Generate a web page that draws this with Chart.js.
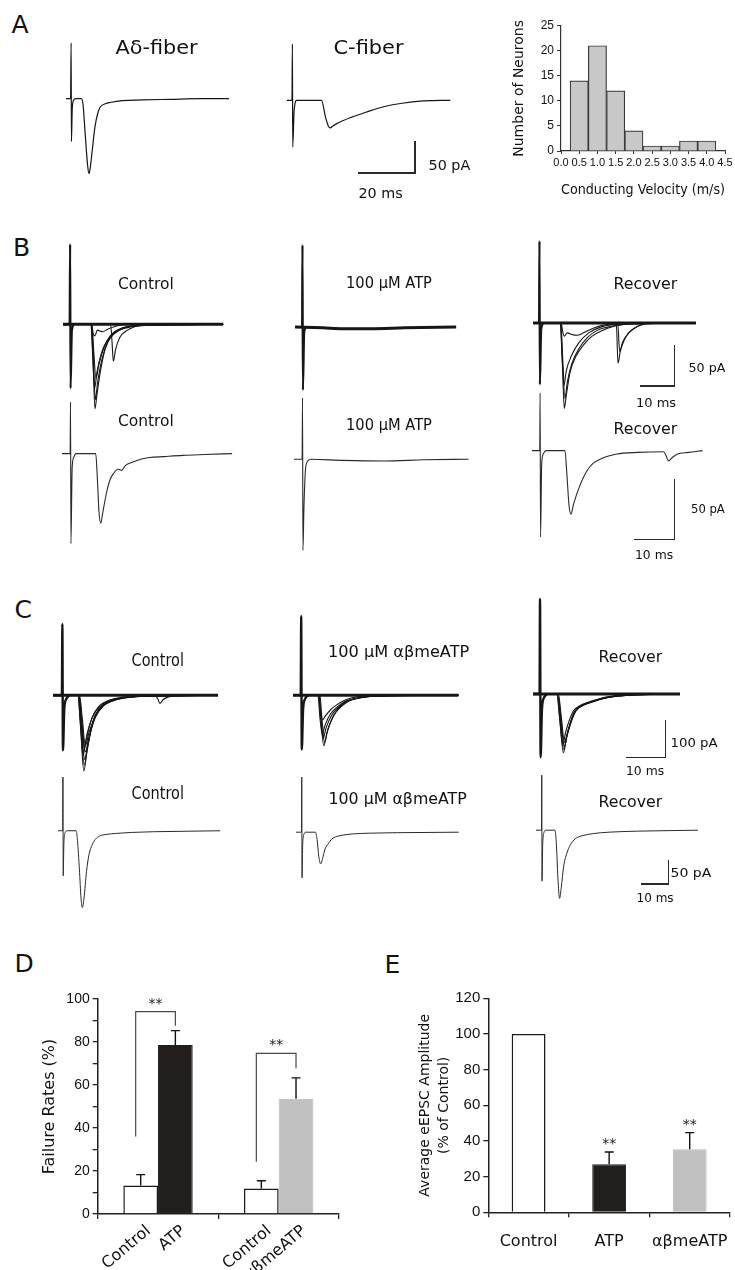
<!DOCTYPE html>
<html>
<head>
<meta charset="utf-8">
<title>ATP and eEPSC figure</title>
<script src="https://cdn.jsdelivr.net/npm/chart.js@4.4.1/dist/chart.umd.min.js"></script>
<style>
html, body { margin: 0; padding: 0; background: #fff; }
#fig { position: relative; width: 735px; height: 1270px; overflow: hidden; font-family: "DejaVu Sans", sans-serif; color: #111; }
#fig canvas { position: absolute; }
.lbl { position: absolute; white-space: nowrap; line-height: 1; transform-origin: center center; }
.sb { position: absolute; background: #2a2a2a; }
</style>
</head>
<body>
<div id="fig"></div>
<script>
// ---- A: single sweeps, time (ms) vs current (pA) ----
const aDeltaTrace = [[-1.8,0],[-0.2,0],[0,87],[0.1,-67],[0.4,-15],[0.9,-2],[1.5,0],[3.6,0],[4.2,-10],[4.9,-53],[5.8,-105],[6.3,-117],[6.8,-105],[7.3,-85],[8.4,-43],[9.4,-22],[10.2,-13],[12,-8],[13.7,-6],[18,-3],[25,-2],[35,-1],[45,0],[55.4,0]];
const cFiberTrace = [[-1.9,0],[-0.15,0],[0,88],[0.1,-73],[0.6,-16],[1.5,0],[10.2,0],[11.6,-26],[12.6,-40],[13.3,-43],[14.2,-40],[15.7,-36],[20.4,-27],[26.2,-18],[32,-10],[37.9,-5],[46,-1],[55.4,0]];

// ---- A: conduction velocity histogram ----
const velocityBins = [0.5, 1.0, 1.5, 2.0, 2.5, 3.0, 3.5, 4.0];
const neuronCounts = [14, 21, 12, 4, 1, 1, 2, 2];

// ---- B: ATP, overlaid sweeps (top) and single sweeps (bottom) ----
const bTopControlArtifact = [[-2.1,0],[-0.15,0],[0,98],[0.12,-78],[0.5,-8],[1.2,0]];
const bTopControlBaseline = [[-2.1,0],[45,0]];
const bTopControlSweeps = [
  [[1.2,0],[6.2,0],[6.7,-40],[7.3,-103],[7.9,-85],[9.0,-55],[10.3,-30],[11.7,-17],[14.6,-7],[18,-3],[24,-1],[45,0]],
  [[1.2,0],[6.3,0],[6.8,-35],[7.4,-92],[8.1,-70],[9.4,-42],[11,-22],[13,-11],[16,-4],[22,-1],[45,0]],
  [[1.2,0],[6.1,0],[6.6,-35],[7.2,-78],[7.9,-58],[9.2,-35],[10.8,-20],[13,-9],[17,-3],[24,-1],[45,0]],
  [[1.2,0],[6.4,0],[6.9,-30],[7.6,-66],[8.4,-50],[9.8,-30],[11.6,-16],[14,-7],[18,-2],[45,0]],
  [[1.2,0],[6.3,0],[6.8,-12],[7.3,-14],[8.0,-7],[9.5,-9],[11,-6],[13,-3],[16,0],[45,0]],
  [[1.2,0],[11.9,0],[12.3,-20],[12.7,-45],[13.4,-30],[14.6,-16],[16.5,-8],[19,-3],[23,0],[45,0]]
];
const bTopAtpArtifact = [[-2.2,0],[-0.12,0],[0,100],[0.12,-77],[0.5,-6],[1.2,0]];
const bTopAtpBaseline = [[-2.2,0],[6,-1],[12,-2],[20,-2],[30,-1],[45.2,0]];
const bTopRecoverArtifact = [[-1.9,0],[-0.12,0],[0,100],[0.12,-75],[0.5,-8],[1.2,0]];
const bTopRecoverBaseline = [[-1.9,0],[46,0]];
const bTopRecoverSweeps = [
  [[1.2,0],[6.2,0],[6.7,-45],[7.3,-104],[7.9,-88],[9,-60],[10.8,-40],[13.1,-26],[15.5,-16],[18,-10],[22,-4],[28,-1],[46,0]],
  [[1.2,0],[6.3,0],[6.8,-40],[7.5,-92],[8.2,-72],[9.5,-50],[11.5,-32],[14,-18],[17,-9],[21,-4],[28,-1],[46,0]],
  [[1.2,0],[6.1,0],[6.6,-35],[7.2,-76],[7.9,-58],[9.4,-40],[11.6,-24],[14.5,-12],[18,-5],[25,-1],[46,0]],
  [[1.2,0],[6.4,0],[6.8,-10],[7.3,-16],[8.2,-12],[9.5,-14],[11,-15],[13,-12],[16,-6],[20,-2],[46,0]],
  [[1.2,0],[22.6,0],[23.1,-49],[23.8,-34],[25,-20],[26.5,-11],[29,-4],[33,0],[46,0]],
  [[1.2,0],[23.0,0],[23.6,-35],[24.4,-24],[26,-13],[28,-6],[31,-1],[46,0]]
];
const bLowControlTrace = [[-2.1,0],[-0.1,0],[0,43],[0.1,-75],[0.4,-12],[0.8,-3],[1.3,0],[6.2,0],[6.6,-20],[7.0,-48],[7.46,-58],[7.9,-50],[8.9,-32],[9.7,-22],[10.5,-17],[11.7,-13],[12.6,-14],[13.5,-10],[15.4,-7],[17.5,-4.5],[19.5,-3.3],[23,-2.5],[27.7,-1.5],[33,-0.8],[39.8,0]];
const bLowAtpTrace = [[-2.1,0],[-0.1,0],[0,51],[0.1,-76],[0.35,-40],[0.7,-10],[1.2,-2],[2,0],[10,-1],[20,-1.5],[30,-0.5],[40.9,0]];
const bLowRecoverTrace = [[-2,0],[-0.1,0],[0,48],[0.1,-72],[0.4,-10],[0.9,-2],[1.4,0],[6.1,0],[6.6,-20],[7.1,-45],[7.6,-53],[8.2,-45],[9.85,-28.6],[11.5,-17],[13.1,-10.5],[15.5,-6],[18.9,-2.8],[24,-1.5],[30.4,-1],[31.0,-4],[31.6,-8.6],[32.5,-6],[33.7,-3],[36.5,-1.5],[40,0]];

// ---- C: alpha,beta-meATP ----
const cTopControlArtifact = [[-2.4,0],[-0.12,0],[0,189],[0.15,-146],[0.5,-35],[1.0,-10],[1.8,0]];
const cTopControlBaseline = [[-2.4,0],[39.9,0]];
const cTopControlSweeps = [
  [[1.8,0],[4.0,0],[4.7,-90],[5.5,-201],[6.3,-150],[7.8,-70],[9.5,-35],[11.3,-20],[14,-10],[18,-4],[25,-1],[39.9,0]],
  [[1.8,0],[4.1,0],[4.8,-85],[5.6,-185],[6.5,-135],[8.0,-66],[9.8,-33],[11.6,-19],[14.5,-9],[19,-3],[26,-1],[39.9,0]],
  [[1.8,0],[4.2,0],[4.9,-80],[5.7,-170],[6.6,-125],[8.2,-62],[10,-32],[12,-17],[15,-8],[20,-3],[39.9,0]],
  [[1.8,0],[4.0,0],[4.6,-70],[5.3,-160],[6.1,-118],[7.6,-60],[9.3,-30],[11,-18],[13.5,-9],[18,-3],[39.9,0]],
  [[1.8,0],[4.3,0],[5.0,-70],[5.9,-150],[6.8,-112],[8.5,-58],[10.3,-30],[12.3,-17],[15.5,-8],[20,-3],[39.9,0]],
  [[1.8,0],[4.1,0],[4.8,-60],[5.6,-140],[6.4,-100],[8.0,-52],[9.8,-28],[11.8,-15],[15,-7],[23.8,-2],[24.5,-10],[25,-22],[25.8,-12],[27,-5],[29,-1],[39.9,0]],
  [[1.8,0],[4.4,0],[5.1,-60],[5.9,-134],[6.8,-100],[8.6,-54],[10.5,-28],[12.8,-15],[16,-6],[21,-2],[39.9,0]]
];
const cTopAbmeArtifact = [[-2.1,0],[-0.12,0],[0,210],[0.15,-144],[0.5,-35],[1.0,-10],[1.8,0]];
const cTopAbmeBaseline = [[-2.1,0],[40.3,0]];
const cTopAbmeSweeps = [
  [[1.8,0],[4.3,0],[4.8,-60],[5.4,-103],[6.1,-80],[7.5,-50],[9.2,-32],[11,-18],[12.6,-12],[16,-5],[22,-1],[40.3,0]],
  [[1.8,0],[4.6,0],[5.1,-70],[5.8,-134],[6.6,-100],[8.0,-60],[9.2,-40],[11,-22],[12.6,-13],[17,-4],[25,0],[40.3,0]],
  [[1.8,0],[4.8,0],[5.3,-60],[6.0,-125],[6.8,-92],[8.3,-55],[9.6,-37],[11.5,-20],[13.5,-11],[18,-3],[40.3,0]],
  [[1.8,0],[4.5,0],[5.0,-55],[5.6,-115],[6.4,-86],[7.9,-52],[9.4,-34],[11.2,-19],[13,-11],[17,-4],[40.3,0]],
  [[1.8,0],[4.4,0],[4.9,-35],[5.4,-66],[6.2,-55],[7.6,-38],[9.2,-25],[11,-14],[13,-7],[17,-2],[40.3,0]]
];
const cTopRecoverArtifact = [[-1.8,0],[-0.12,0],[0,252],[0.15,-168],[0.5,-40],[1.0,-10],[1.8,0]];
const cTopRecoverBaseline = [[-1.8,0],[35.9,0]];
const cTopRecoverSweeps = [
  [[1.8,0],[4.4,0],[5.1,-70],[6.0,-156],[6.8,-115],[8.7,-50],[10.5,-33],[13.8,-20],[17,-10],[22,-4],[28,-1],[35.9,0]],
  [[1.8,0],[4.5,0],[5.2,-65],[6.1,-148],[6.9,-110],[8.8,-48],[10.7,-31],[13.8,-19],[17,-9],[22,-3],[35.9,0]],
  [[1.8,0],[4.6,0],[5.3,-60],[6.2,-140],[7.1,-104],[9.0,-47],[11,-30],[14,-18],[17.5,-9],[23,-3],[35.9,0]],
  [[1.8,0],[4.3,0],[5.0,-60],[5.8,-135],[6.6,-100],[8.5,-46],[10.4,-30],[13.5,-18],[17,-8],[22,-2],[35.9,0]],
  [[1.8,0],[4.7,0],[5.4,-55],[6.3,-129],[7.2,-96],[9.2,-45],[11.2,-28],[14.2,-17],[18,-8],[24,-2],[35.9,0]]
];
const cLowControlTrace = [[-1.8,0],[-0.1,0],[0,112],[0.1,-94],[0.35,-25],[0.8,-4],[1.5,0],[4.8,0],[5.3,-20],[6.0,-80],[6.6,-140],[7.1,-160],[7.7,-140],[8.6,-85],[9.5,-50],[10.4,-33],[11.8,-18],[13.4,-11],[16,-7.5],[19.5,-5.5],[25,-3.5],[33,-2],[45,-1],[57.4,0]];
const cLowAbmeTrace = [[-2.1,0],[-0.1,0],[0,115],[0.1,-95],[0.35,-25],[0.8,-4],[1.5,0],[5.0,0],[5.6,-15],[6.2,-50],[6.9,-66],[7.6,-55],[8.5,-35],[9.7,-24],[11,-14],[12.8,-9],[15,-6],[18.8,-3.5],[25,-2],[35,-1],[57.3,0]];
const cLowRecoverTrace = [[-2.1,0],[-0.1,0],[0,115],[0.1,-106],[0.35,-30],[0.8,-5],[1.5,0],[4.8,0],[5.3,-25],[5.9,-100],[6.5,-142],[7.1,-120],[8.0,-75],[9.1,-49],[10.5,-30],[12.2,-18],[14.5,-12],[18.8,-7],[25,-4],[35,-2],[45,-1],[57,0]];

// ---- D: failure rates (%) ----
const failGroups = ['ATP', 'αβmeATP'];
const failControl = [13.2, 11.9];
const failControlErr = [5.1, 3.6];
const failDrug = [78.6, 53.6];
const failDrugErr = [6.7, 9.7];
const failTickLabels = [['Control', 'ATP'], ['Control', 'αβmeATP']];
const bracketLeftEnd = [36, 24.3];
const bracketTop = [94.1, 74.7];
const bracketRightEnd = [87.6, 67.8];

// ---- E: eEPSC amplitude (% of control) ----
const ampLabels = ['Control', 'ATP', 'αβmeATP'];
const ampMean = [100, 26.9, 35.3];
const ampErr = [0, 6.9, 9.4];
const ampSignificant = [false, true, true];

// ---------------------------------------------------------------
const fig = document.getElementById('fig');
const INK = '#161616';
Chart.defaults.animation = false;
Chart.defaults.responsive = false;
Chart.defaults.layout.autoPadding = false;
Chart.defaults.plugins.legend.display = false;
Chart.defaults.plugins.tooltip.enabled = false;
Chart.defaults.font.family = '"Liberation Sans", Arial, sans-serif';
Chart.defaults.color = '#111';

function addCanvas(left, top, w, h) {
  const cv = document.createElement('canvas');
  cv.width = w; cv.height = h;
  cv.style.left = left + 'px';
  cv.style.top = top + 'px';
  fig.appendChild(cv);
  return cv;
}

// text label centred on (cx, cy), squeezed to the target width when given
function addLabel(text, cx, cy, size, targetW) {
  const d = document.createElement('div');
  d.className = 'lbl';
  d.textContent = text;
  d.style.fontSize = size + 'px';
  fig.appendChild(d);
  const w = d.offsetWidth, h = d.offsetHeight;
  d.style.left = (cx - w / 2) + 'px';
  d.style.top = (cy - h / 2) + 'px';
  if (targetW) d.style.transform = 'scaleX(' + (targetW / w).toFixed(3) + ')';
}

// L-shaped scale bar: vertical at x from yTop to yBot, horizontal from xLeft to x
function addScaleBar(x, yTop, yBot, xLeft) {
  const v = document.createElement('div');
  v.className = 'sb';
  Object.assign(v.style, { left: (x - 0.6) + 'px', top: yTop + 'px', width: '1.2px', height: (yBot - yTop) + 'px' });
  const hz = document.createElement('div');
  hz.className = 'sb';
  Object.assign(hz.style, { left: xLeft + 'px', top: (yBot - 0.6) + 'px', width: (x - xLeft + 0.6) + 'px', height: '1.2px' });
  fig.appendChild(v); fig.appendChild(hz);
}

// one recording panel: x0/y0 = page pixel of stimulus time and baseline
function tracePanel(p) {
  const pts = p.traces.flatMap(t => t[0]);
  const pad = 3;
  const tMin = Math.min(...pts.map(q => q[0])) - pad / p.msPx;
  const tMax = Math.max(...pts.map(q => q[0]));
  const iMin = Math.min(...pts.map(q => q[1]));
  const iMax = Math.max(...pts.map(q => q[1])) + pad / p.paPx;
  const w = Math.ceil((tMax - tMin) * p.msPx + pad);
  const h = Math.ceil((iMax - iMin) * p.paPx + pad);
  const cv = addCanvas(p.x0 + tMin * p.msPx, p.y0 - iMax * p.paPx, w, h);
  new Chart(cv, {
    type: 'line',
    data: {
      datasets: p.traces.map(([d, lw]) => ({
        data: d.map(q => ({ x: q[0], y: q[1] })),
        borderColor: p.color || INK,
        borderWidth: lw,
        pointRadius: 0,
        cubicInterpolationMode: 'monotone',
        borderJoinStyle: 'round',
        clip: false
      }))
    },
    options: {
      layout: { padding: 0 },
      scales: {
        x: { type: 'linear', display: false, min: tMin, max: tMin + w / p.msPx },
        y: { type: 'linear', display: false, min: iMax - h / p.paPx, max: iMax }
      }
    }
  });
}

const sweepsOf = (list, lw) => list.map(d => [d, lw]);

[
  { x0: 71, y0: 99, msPx: 2.85, paPx: 0.64, traces: [[aDeltaTrace, 1.2]] },
  { x0: 292.3, y0: 100, msPx: 2.85, paPx: 0.64, traces: [[cFiberTrace, 1.2]] },

  { x0: 70.3, y0: 324, msPx: 3.4, paPx: 0.82,
    traces: [[bTopControlArtifact, 2.2], [bTopControlBaseline, 3], ...sweepsOf(bTopControlSweeps, 1.1)] },
  { x0: 302.7, y0: 326.7, msPx: 3.4, paPx: 0.82,
    traces: [[bTopAtpArtifact, 2.2], [bTopAtpBaseline, 3]] },
  { x0: 539, y0: 323.3, msPx: 3.4, paPx: 0.82,
    traces: [[bTopRecoverArtifact, 2.2], [bTopRecoverBaseline, 3], ...sweepsOf(bTopRecoverSweeps, 1.1)] },
  { x0: 70.7, y0: 453.3, msPx: 4.06, paPx: 1.2, color: '#2a2a2a', traces: [[bLowControlTrace, 1.1]] },
  { x0: 302.7, y0: 459, msPx: 4.06, paPx: 1.2, color: '#2a2a2a', traces: [[bLowAtpTrace, 1.1]] },
  { x0: 540.3, y0: 450.7, msPx: 4.06, paPx: 1.2, color: '#2a2a2a', traces: [[bLowRecoverTrace, 1.1]] },

  { x0: 62.7, y0: 695.7, msPx: 3.9, paPx: 0.377,
    traces: [[cTopControlArtifact, 2.4], [cTopControlBaseline, 3], ...sweepsOf(cTopControlSweeps, 1.1)] },
  { x0: 300.7, y0: 695, msPx: 3.9, paPx: 0.377,
    traces: [[cTopAbmeArtifact, 2.4], [cTopAbmeBaseline, 3], ...sweepsOf(cTopAbmeSweeps, 1.1)] },
  { x0: 539.7, y0: 694.3, msPx: 3.9, paPx: 0.377,
    traces: [[cTopRecoverArtifact, 2.4], [cTopRecoverBaseline, 3], ...sweepsOf(cTopRecoverSweeps, 1.1)] },
  { x0: 63.3, y0: 830.7, msPx: 2.74, paPx: 0.48, color: '#2a2a2a', traces: [[cLowControlTrace, 1]] },
  { x0: 301.7, y0: 831.7, msPx: 2.74, paPx: 0.48, color: '#2a2a2a', traces: [[cLowAbmeTrace, 1]] },
  { x0: 542, y0: 830, msPx: 2.74, paPx: 0.48, color: '#2a2a2a', traces: [[cLowRecoverTrace, 1]] }
].forEach(tracePanel);

[
  [415, 141, 173, 358],
  [674.3, 345, 386, 640.3],
  [674.3, 479.3, 539.3, 633.7],
  [665.3, 720, 757.7, 626.3],
  [668.7, 860, 884, 641.3]
].forEach(b => addScaleBar(...b));

[
  ['A', 20, 24, 25], ['Aδ-fiber', 156, 47, 20, 82], ['C-fiber', 368, 47, 20, 70],
  ['50 pA', 449, 165, 14, 42], ['20 ms', 380, 193, 14, 44],
  ['B', 21.5, 247, 25],
  ['Control', 146, 284, 16, 56], ['100 µM ATP', 389, 283, 15, 86], ['Recover', 645, 284, 16, 64],
  ['50 pA', 707, 367, 13, 37], ['10 ms', 656, 402, 13, 40],
  ['Control', 146, 421, 16, 56], ['100 µM ATP', 389, 425, 15, 86], ['Recover', 645, 429, 16, 64],
  ['50 pA', 708, 508, 13, 34], ['10 ms', 654, 554, 13, 38],
  ['C', 23, 609, 25],
  ['Control', 157, 660, 17, 52], ['100 µM αβmeATP', 398, 652, 15, 141], ['Recover', 630, 657, 16, 64],
  ['100 pA', 694, 742, 13, 47], ['10 ms', 645, 770, 13, 38],
  ['Control', 157, 793, 17, 52], ['100 µM αβmeATP', 397, 799, 15, 138], ['Recover', 630, 802, 16, 64],
  ['50 pA', 691, 872, 13, 41], ['10 ms', 655, 897, 13, 37],
  ['D', 24, 963, 25], ['E', 392.5, 964, 25]
].forEach(l => addLabel(...l));

// ---- histogram ----
new Chart(addCanvas(480, 15, 255, 190), {
  type: 'bar',
  data: {
    datasets: [{
      data: velocityBins.map((v, i) => ({ x: v, y: neuronCounts[i] })),
      backgroundColor: '#c8c8c8',
      borderColor: '#3a3a3a',
      borderWidth: 1.2,
      barPercentage: 1,
      categoryPercentage: 1
    }]
  },
  options: {
    layout: { padding: { left: 26.9, right: 10, top: 10.7, bottom: 0 } },
    scales: {
      x: {
        type: 'linear', min: 0, max: 4.5, offset: false,
        grid: { offset: false, drawOnChartArea: false, tickLength: 3, color: '#333' },
        border: { color: '#333', width: 1.2 },
        ticks: { stepSize: 0.5, autoSkip: false, maxRotation: 0, minRotation: 0, padding: 2,
          callback: v => v.toFixed(1),
          font: { size: 11, family: '"Liberation Sans Narrow", "Liberation Sans", sans-serif' } },
        title: { display: true, text: 'Conducting Velocity (m/s)', padding: { top: 2, bottom: 6 },
          font: { size: 14, family: '"DejaVu Sans", sans-serif' } },
        afterFit: s => { s.height = 54; s.paddingLeft = 0; s.paddingRight = 0; }
      },
      y: {
        min: 0, max: 25,
        grid: { drawOnChartArea: false, tickLength: 4, color: '#333' },
        border: { color: '#333', width: 1.2 },
        ticks: { stepSize: 5, padding: 3, font: { size: 12 } },
        title: { display: true, text: 'Number of Neurons', font: { size: 14, family: '"DejaVu Sans", sans-serif' } },
        afterFit: s => { s.width = 54.1; }
      }
    }
  }
});

// ---- shared drawing for error bars and significance stars ----
function drawErrorBar(ctx, x, yBar, yTop) {
  ctx.save();
  ctx.strokeStyle = '#111';
  ctx.lineWidth = 1.4;
  ctx.beginPath();
  ctx.moveTo(x, yBar); ctx.lineTo(x, yTop);
  ctx.moveTo(x - 4.5, yTop); ctx.lineTo(x + 4.5, yTop);
  ctx.stroke();
  ctx.restore();
}
function drawStars(ctx, x, yc) {
  ctx.save();
  ctx.fillStyle = '#222';
  ctx.font = '14px "DejaVu Sans", sans-serif';
  ctx.textAlign = 'center';
  ctx.textBaseline = 'alphabetic';
  ctx.fillText('**', x, yc + 8);
  ctx.restore();
}

// ---- D ----
new Chart(addCanvas(0, 960, 370, 310), {
  type: 'bar',
  data: {
    labels: failGroups,
    datasets: [
      { data: failControl, backgroundColor: '#fff', borderColor: '#1a1a1a', borderWidth: 1.5 },
      { data: failDrug, backgroundColor: ['#221e1c', '#c0c0c0'], borderColor: ['#221e1c', '#b8b8b8'], borderWidth: 1 }
    ]
  },
  options: {
    barPercentage: 1,
    categoryPercentage: 0.575,
    layout: { padding: { left: 36.4, right: 31, top: 39, bottom: 0 } },
    scales: {
      x: {
        grid: { offset: true, drawOnChartArea: false, tickLength: 5, color: '#222', lineWidth: 1.3 },
        border: { color: '#222', width: 1.5 },
        ticks: { display: false },
        afterFit: s => { s.height = 56; s.paddingLeft = 0; s.paddingRight = 0; }
      },
      y: {
        min: 0, max: 100,
        grid: { drawOnChartArea: false, tickLength: 5, color: '#222', lineWidth: 1.3 },
        border: { color: '#222', width: 1.5 },
        ticks: { stepSize: 10, autoSkip: false, padding: 3, font: { size: 14 },
          callback: v => (v % 20 === 0 ? v : '') },
        title: { display: true, text: 'Failure Rates (%)', font: { size: 16, family: '"DejaVu Sans", sans-serif' } },
        afterFit: s => { s.width = 61.3; }
      }
    }
  },
  plugins: [{
    id: 'failureMarks',
    afterDatasetsDraw(chart) {
      const ctx = chart.ctx, y = chart.scales.y;
      const ctrl = chart.getDatasetMeta(0).data, drug = chart.getDatasetMeta(1).data;
      ctrl.forEach((bar, j) => drawErrorBar(ctx, bar.x, y.getPixelForValue(failControl[j]), y.getPixelForValue(failControl[j] + failControlErr[j])));
      drug.forEach((bar, j) => drawErrorBar(ctx, bar.x, y.getPixelForValue(failDrug[j]), y.getPixelForValue(failDrug[j] + failDrugErr[j])));
      failGroups.forEach((g, j) => {
        const xl = ctrl[j].x - 5, xr = drug[j].x, yt = y.getPixelForValue(bracketTop[j]);
        ctx.save();
        ctx.strokeStyle = '#4a4a4a';
        ctx.lineWidth = 1.2;
        ctx.beginPath();
        ctx.moveTo(xl, y.getPixelForValue(bracketLeftEnd[j]));
        ctx.lineTo(xl, yt); ctx.lineTo(xr, yt);
        ctx.lineTo(xr, y.getPixelForValue(bracketRightEnd[j]));
        ctx.stroke();
        ctx.restore();
        drawStars(ctx, (xl + xr) / 2, yt - 12);
        // slanted category names under each bar
        [ctrl[j], drug[j]].forEach((bar, k) => {
          ctx.save();
          ctx.translate(bar.x + 8, chart.chartArea.bottom + 15);
          ctx.rotate(-40 * Math.PI / 180);
          ctx.font = '16px "DejaVu Sans", sans-serif';
          ctx.fillStyle = '#111';
          ctx.textAlign = 'right';
          ctx.textBaseline = 'middle';
          ctx.fillText(failTickLabels[j][k], 0, 0);
          ctx.restore();
        });
      });
    }
  }]
});

// ---- E ----
new Chart(addCanvas(370, 960, 400, 310), {
  type: 'bar',
  data: {
    labels: ampLabels,
    datasets: [{
      data: ampMean,
      backgroundColor: ['#fff', '#221e1c', '#c0c0c0'],
      borderColor: ['#1a1a1a', '#221e1c', '#b8b8b8'],
      borderWidth: [1.5, 1, 1],
      barPercentage: 0.42,
      categoryPercentage: 1
    }]
  },
  options: {
    layout: { padding: { left: 41.2, right: 40, top: 38.3, bottom: 0 } },
    scales: {
      x: {
        grid: { offset: true, drawOnChartArea: false, tickLength: 5, color: '#222', lineWidth: 1.3 },
        border: { color: '#222', width: 1.5 },
        ticks: { padding: 15, autoSkip: false, maxRotation: 0, minRotation: 0,
          font: { size: 16, family: '"DejaVu Sans", sans-serif' } },
        afterFit: s => { s.height = 57.7; s.paddingLeft = 0; s.paddingRight = 0; }
      },
      y: {
        min: 0, max: 120,
        grid: { drawOnChartArea: false, tickLength: 5, color: '#222', lineWidth: 1.3 },
        border: { color: '#222', width: 1.5 },
        ticks: { stepSize: 20, padding: 3, font: { size: 15 } },
        title: { display: true, text: ['Average eEPSC Amplitude', '(% of Control)'],
          font: { size: 14, lineHeight: 1.4, family: '"DejaVu Sans", sans-serif' } },
        afterFit: s => { s.width = 77.1; }
      }
    }
  },
  plugins: [{
    id: 'amplitudeMarks',
    afterDatasetsDraw(chart) {
      const ctx = chart.ctx, y = chart.scales.y;
      chart.getDatasetMeta(0).data.forEach((bar, j) => {
        const top = y.getPixelForValue(ampMean[j] + ampErr[j]);
        if (ampErr[j] > 0) drawErrorBar(ctx, bar.x, y.getPixelForValue(ampMean[j]), top);
        if (ampSignificant[j]) drawStars(ctx, bar.x, top - 12);
      });
    }
  }]
});
</script>
</body>
</html>
